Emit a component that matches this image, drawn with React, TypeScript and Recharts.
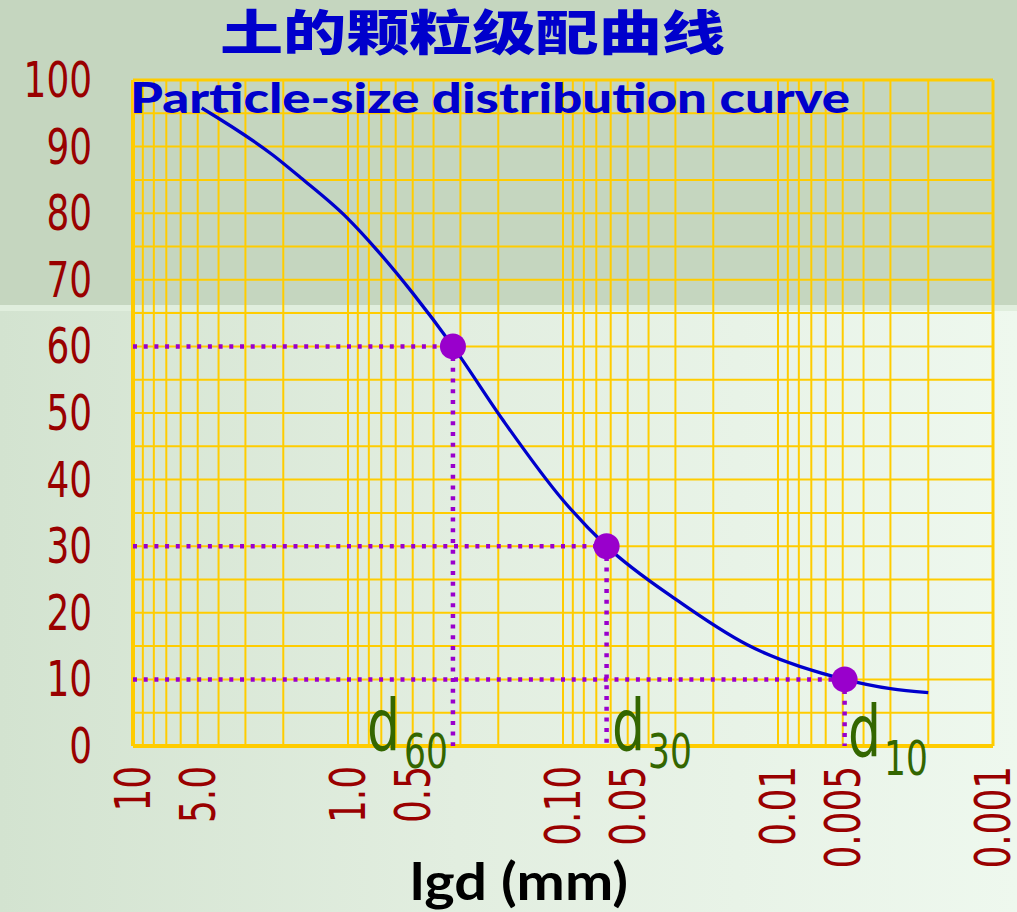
import React from "react";
import {
  ComposedChart,
  Line,
  Scatter,
  XAxis,
  YAxis,
  CartesianGrid,
  ReferenceLine,
} from "recharts";

// ---- data ----
const sizeMm = [4.79, 2.23, 1.67, 1.01, 0.735, 0.5, 0.325, 0.19, 0.1, 0.0627, 0.0295, 0.0139, 0.0049, 0.003, 0.002];
const percentFiner = [95.8, 88.7, 85.4, 79.3, 74.5, 68.0, 60.0, 48.9, 36.9, 30.0, 21.9, 15.2, 10.0, 8.6, 8.0];

const keyNames = ["60", "30", "10"];
const keySize = [0.325, 0.0627, 0.0049];
const keyPercent = [60, 30, 10];

const xTickValues = [10, 5, 1, 0.5, 0.1, 0.05, 0.01, 0.005, 0.001];
const xTickLabels = ["10", "5.0", "1.0", "0.5", "0.10", "0.05", "0.01", "0.005", "0.001"];
const yTickValues = [0, 10, 20, 30, 40, 50, 60, 70, 80, 90, 100];

const xGridValues = [
  10, 9, 8, 7, 6, 5, 4, 3, 2,
  1, 0.9, 0.8, 0.7, 0.6, 0.5, 0.4, 0.3, 0.2,
  0.1, 0.09, 0.08, 0.07, 0.06, 0.05, 0.04, 0.03, 0.02,
  0.01, 0.009, 0.008, 0.007, 0.006, 0.005, 0.004, 0.003, 0.002,
  0.001,
];
const yGridValues = [0, 5, 10, 15, 20, 25, 30, 35, 40, 45, 50, 55, 60, 65, 70, 75, 80, 85, 90, 95, 100];

const titleCn = "土的颗粒级配曲线";
const titleEn = "Particle-size distribution curve";
const xAxisTitle = "lgd (mm)";

// ---- derived tables ----
const curveData = sizeMm.map((d, i) => ({ d, p: percentFiner[i] }));
const keyData = keySize.map((d, i) => ({ d, p: keyPercent[i], name: keyNames[i] }));

const GRID = "#ffcc00";
const RED = "#990000";
const PURPLE = "#9900cc";
const BLUE = "#0000cc";
const GREEN = "#336600";
const NUM_FONT = "'DejaVu Sans Condensed', 'Liberation Sans Narrow', sans-serif";

// narrow-number width (digit 22.8px, dot 11.4px at 50px)
const numWidth = (s: string, size: number) =>
  s.split("").reduce((w, c) => w + (c === "." ? 0.228 : 0.456) * size, 0);

const XTick = (props: any) => {
  const { x, y, payload } = props;
  const idx = xTickValues.indexOf(payload.value);
  const label = idx >= 0 ? xTickLabels[idx] : String(payload.value);
  return (
    <text
      x={x}
      y={y}
      transform={`rotate(-90 ${x} ${y})`}
      textAnchor="end"
      dominantBaseline="central"
      fill={RED}
      fontSize={50}
      fontFamily={NUM_FONT}
      textLength={numWidth(label, 50)}
      lengthAdjust="spacingAndGlyphs"
    >
      {label}
    </text>
  );
};

const YTick = (props: any) => {
  const { x, y, payload } = props;
  const label = String(payload.value);
  return (
    <text
      x={x}
      y={y}
      textAnchor="end"
      dominantBaseline="central"
      fill={RED}
      fontSize={50}
      fontFamily={NUM_FONT}
      textLength={numWidth(label, 50)}
      lengthAdjust="spacingAndGlyphs"
    >
      {label}
    </text>
  );
};

const dot = (props: any) => (
  <circle cx={props.cx} cy={props.cy} r={13} fill={PURPLE} stroke="none" />
);

// annotation layout for the d60 / d30 / d10 labels
const dLabelLayout = [
  { dx: 367, base: 750, subDx: 404, subBase: 768 },
  { dx: 612, base: 750, subDx: 648, subBase: 768 },
  { dx: 848, base: 756, subDx: 884, subBase: 775 },
];

export default function App() {
  return (
    <div
      style={{
        position: "absolute",
        left: 0,
        top: 0,
        width: 1017,
        height: 912,
        overflow: "hidden",
        background:
          "linear-gradient(to bottom, #c5d6bf 0px, #c5d6bf 305px, #e0eedd 305px, #e0eedd 311px, rgba(0,0,0,0) 311px), linear-gradient(to right, #d3e3d0 0%, #e2eee0 45%, #eef8ee 100%)",
      }}
    >
      <ComposedChart
        width={1017}
        height={912}
        margin={{ top: 80, right: 24, bottom: 66, left: 33 }}
      >
        <CartesianGrid
          stroke={GRID}
          strokeWidth={2}
          horizontalValues={yGridValues}
          verticalValues={xGridValues}
          fill="none"
        />
        <XAxis
          dataKey="d"
          type="number"
          scale="log"
          domain={[0.001, 10]}
          reversed
          allowDataOverflow
          ticks={xTickValues}
          interval={0}
          height={100}
          axisLine={false}
          tickLine={false}
          tickSize={0}
          tickMargin={20}
          tick={<XTick />}
        />
        <YAxis
          dataKey="p"
          type="number"
          domain={[0, 100]}
          ticks={yTickValues}
          interval={0}
          width={100}
          axisLine={false}
          tickLine={false}
          tickSize={0}
          tickMargin={41}
          tick={<YTick />}
        />
        <ReferenceLine x={10} stroke={GRID} strokeWidth={4} />
        <ReferenceLine x={0.001} stroke={GRID} strokeWidth={3} />
        <ReferenceLine y={0} stroke={GRID} strokeWidth={4} />
        <ReferenceLine y={100} stroke={GRID} strokeWidth={3} />
        {keyData.map((k) => (
          <ReferenceLine
            key={"h" + k.name}
            segment={[{ x: 10, y: k.p }, { x: k.d, y: k.p }]}
            stroke={PURPLE}
            strokeWidth={4.5}
            strokeDasharray="4 6.7"
          />
        ))}
        {keyData.map((k) => (
          <ReferenceLine
            key={"v" + k.name}
            segment={[{ x: k.d, y: k.p }, { x: k.d, y: 0 }]}
            stroke={PURPLE}
            strokeWidth={4.5}
            strokeDasharray="4 6.7"
          />
        ))}
        <Line
          data={curveData}
          dataKey="p"
          type="monotone"
          stroke={BLUE}
          strokeWidth={3.3}
          dot={false}
          activeDot={false}
          isAnimationActive={false}
        />
        <Scatter
          data={keyData}
          dataKey="p"
          fill={PURPLE}
          shape={dot}
          isAnimationActive={false}
        />
      </ComposedChart>
      <svg
        width={1017}
        height={912}
        style={{ position: "absolute", left: 0, top: 0, pointerEvents: "none" }}
      >
        <text
          x={220}
          y={50}
          fontSize={48}
          fontWeight={900}
          fontFamily="'Noto Sans CJK SC', sans-serif"
          fill={BLUE}
          textLength={505}
          lengthAdjust="spacingAndGlyphs"
        >
          {titleCn}
        </text>
        <text
          x={130}
          y={113}
          fontSize={42}
          fontWeight={900}
          fontFamily="Lato, 'DejaVu Sans', sans-serif"
          fill={BLUE}
          textLength={720}
          lengthAdjust="spacingAndGlyphs"
        >
          {titleEn}
        </text>
        <text
          x={410}
          y={900}
          fontSize={52}
          fontWeight={700}
          fontFamily="Lato, 'DejaVu Sans', sans-serif"
          fill="#000000"
          textLength={218}
          lengthAdjust="spacingAndGlyphs"
        >
          {xAxisTitle}
        </text>
        {keyNames.map((n, i) => (
          <g key={n}>
            <text
              x={dLabelLayout[i].dx}
              y={dLabelLayout[i].base}
              fontSize={72}
              fontFamily={NUM_FONT}
              fill={GREEN}
              textLength={33}
              lengthAdjust="spacingAndGlyphs"
            >
              d
            </text>
            <text
              x={dLabelLayout[i].subDx}
              y={dLabelLayout[i].subBase}
              fontSize={48}
              fontFamily={NUM_FONT}
              fill={GREEN}
              textLength={numWidth(n, 48)}
              lengthAdjust="spacingAndGlyphs"
            >
              {n}
            </text>
          </g>
        ))}
      </svg>
    </div>
  );
}
